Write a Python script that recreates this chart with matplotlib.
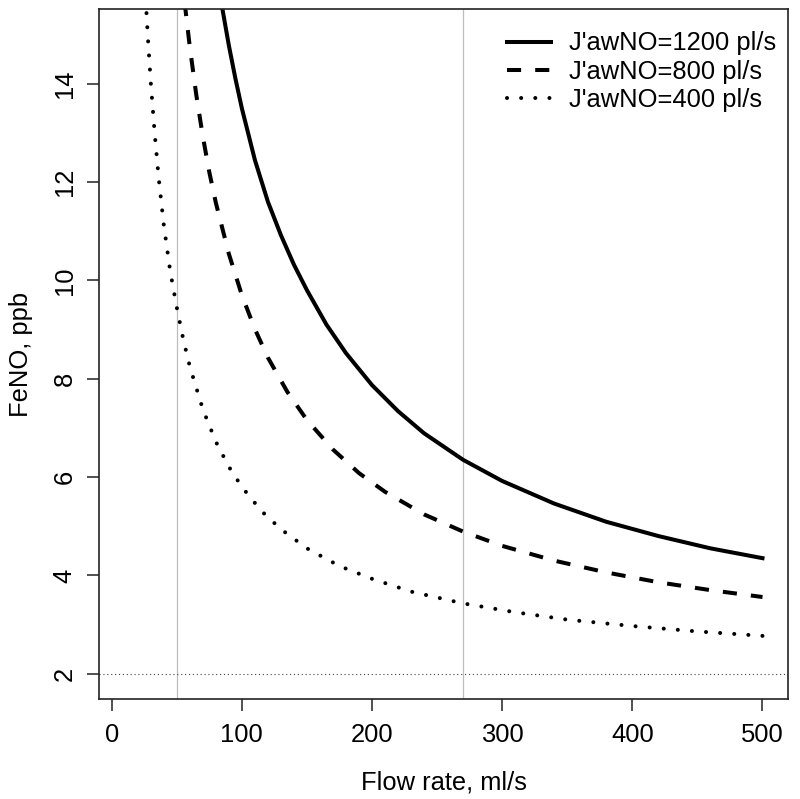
import matplotlib
matplotlib.use("Agg")
import matplotlib.pyplot as plt

plt.rcParams['font.family'] = ['Liberation Sans', 'DejaVu Sans']

# values (flow rate ml/s, FeNO ppb)
flow_1200 = [85, 90, 95, 100, 110, 120, 130, 140, 150, 165, 180, 200, 220, 240, 270, 300, 340, 380, 420, 460, 500]
feno_1200 = [15.53, 14.78, 14.11, 13.5, 12.45, 11.6, 10.92, 10.32, 9.8, 9.10, 8.52, 7.87, 7.34, 6.89, 6.35, 5.92,
             5.46, 5.09, 4.80, 4.55, 4.35]

flow_800 = [56, 60, 65, 70, 75, 80, 90, 100, 110, 120, 135, 150, 170, 190, 210, 240, 270, 300, 340, 380, 420, 460, 500]
feno_800 = [15.66, 14.75, 13.77, 12.93, 12.2, 11.58, 10.54, 9.7, 9.01, 8.43, 7.73, 7.16, 6.56, 6.08, 5.70, 5.24,
            4.89, 4.60, 4.30, 4.06, 3.86, 3.70, 3.56]

flow_400 = [26, 28, 30, 33, 36, 40, 45, 50, 55, 60, 70, 80, 90, 100, 115, 130, 150, 175, 200, 230, 270, 310, 350,
            400, 450, 500]
feno_400 = [15.77, 14.86, 14.03, 13.0, 12.11, 11.13, 10.18, 9.45, 8.8, 8.25, 7.38, 6.72, 6.21, 5.8, 5.31, 4.94,
            4.55, 4.19, 3.93, 3.67, 3.43, 3.25, 3.10, 2.97, 2.86, 2.77]

labels = ["J'awNO=1200 pl/s", "J'awNO=800 pl/s", "J'awNO=400 pl/s"]
flow_marks = [50, 270]
feno_floor = 2

fs = 18.4
fig = plt.figure(figsize=(8, 7.99), dpi=100)
ax = fig.add_axes([0.124, 0.1248, 0.861, 0.864])

for x in flow_marks:
    ax.axvline(x, color="#bdbdbd", lw=0.9, zorder=1)
ax.axhline(feno_floor, color="#444444", lw=0.8, ls=(0, (1, 2.5)), zorder=1)

lw = 2.9
ax.plot(flow_1200, feno_1200, color="black", lw=lw, label=labels[0])
ax.plot(flow_800, feno_800, color="black", lw=lw, ls=(0, (3.5, 3.5)),
        dash_capstyle="butt", label=labels[1])
ax.plot(flow_400, feno_400, color="black", lw=lw, ls=(0, (0.01, 3.5)),
        dash_capstyle="round", label=labels[2])

ax.set_xlim(-9.6, 519.6)
ax.set_ylim(1.48, 15.52)
ax.set_xticks([0, 100, 200, 300, 400, 500])
ax.set_yticks([2, 4, 6, 8, 10, 12, 14])

for s in ax.spines.values():
    s.set_linewidth(1.2)
    s.set_color("#222222")
ax.tick_params(length=8.3, width=1.1, color="#222222", labelsize=fs)
ax.tick_params(axis="x", pad=9)
ax.tick_params(axis="y", pad=8)
for t in ax.get_yticklabels():
    t.set_rotation(90)
    t.set_va("center")

ax.set_xlabel("Flow rate, ml/s", fontsize=fs, labelpad=17)
ax.set_ylabel("FeNO, ppb", fontsize=fs, labelpad=14)

ax.legend(loc="upper right", bbox_to_anchor=(1.0, 0.984), frameon=False, fontsize=fs,
          handlelength=1.75, handletextpad=0.7, labelspacing=0.16, borderaxespad=0.05)

fig.savefig("out.png", dpi=100)
